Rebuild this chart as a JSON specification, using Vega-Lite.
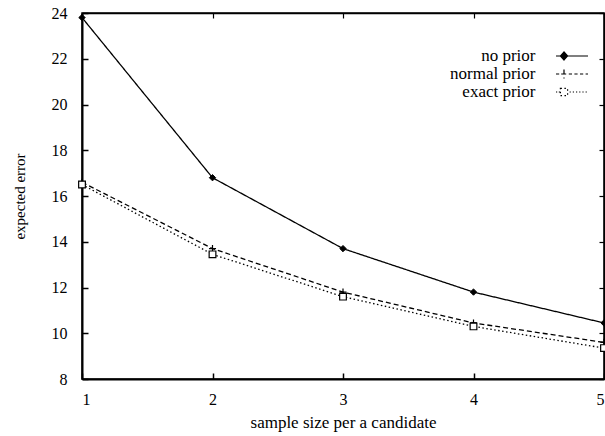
{
  "$schema": "https://vega.github.io/schema/vega-lite/v6.json",
  "width": 522,
  "height": 366,
  "autosize": "none",
  "padding": {"left": 82, "top": 13, "right": 1, "bottom": 57},
  "background": "white",
  "config": {
    "font": "Liberation Serif",
    "view": {"stroke": "black", "strokeWidth": 1.5},
    "axis": {
      "grid": false,
      "labelFont": "Liberation Serif",
      "titleFont": "Liberation Serif",
      "labelColor": "black",
      "titleColor": "black",
      "domainColor": "black",
      "tickColor": "black",
      "titleFontWeight": "normal"
    }
  },
  "data": {
    "values": [
      {"series": "no prior", "size": 1, "error": 23.8},
      {"series": "no prior", "size": 2, "error": 16.8},
      {"series": "no prior", "size": 3, "error": 13.7},
      {"series": "no prior", "size": 4, "error": 11.8},
      {"series": "no prior", "size": 5, "error": 10.45},
      {"series": "normal prior", "size": 1, "error": 16.6},
      {"series": "normal prior", "size": 2, "error": 13.7},
      {"series": "normal prior", "size": 3, "error": 11.8},
      {"series": "normal prior", "size": 4, "error": 10.45},
      {"series": "normal prior", "size": 5, "error": 9.6},
      {"series": "exact prior", "size": 1, "error": 16.5},
      {"series": "exact prior", "size": 2, "error": 13.45},
      {"series": "exact prior", "size": 3, "error": 11.6},
      {"series": "exact prior", "size": 4, "error": 10.3},
      {"series": "exact prior", "size": 5, "error": 9.35}
    ]
  },
  "layer": [
    {
      "mark": {"type": "line", "color": "black", "strokeWidth": 1.3},
      "encoding": {
        "x": {
          "field": "size", "type": "quantitative",
          "scale": {"domain": [1, 5], "nice": false, "zero": false},
          "axis": {
            "title": "sample size per a candidate",
            "values": [1, 2, 3, 4, 5], "format": "d",
            "tickSize": -6, "tickWidth": 1.5, "domainWidth": 2,
            "labelPadding": 18, "labelFontSize": 16,
            "titleFontSize": 17, "titlePadding": 7
          }
        },
        "y": {
          "field": "error", "type": "quantitative",
          "scale": {"domain": [8, 24], "nice": false, "zero": false},
          "axis": {
            "title": "expected error",
            "values": [8, 10, 12, 14, 16, 18, 20, 22, 24], "format": "d",
            "tickSize": -6, "tickWidth": 1.5, "domainWidth": 2,
            "labelPadding": 21, "labelFontSize": 16,
            "titleFontSize": 15, "titlePadding": 24
          }
        },
        "strokeDash": {
          "field": "series", "type": "nominal",
          "scale": {
            "domain": ["no prior", "normal prior", "exact prior"],
            "range": [[1, 0], [5, 3], [1.5, 2.5]]
          },
          "legend": {
            "orient": "none",
            "legendX": 456,
            "legendY": 34,
            "title": null,
            "padding": 0,
            "labelFont": "Liberation Serif",
            "labelFontSize": 17,
            "labelColor": "black",
            "labelAlign": "right",
            "labelOffset": -45.5,
            "symbolOffset": 25,
            "symbolSize": 256,
            "symbolStrokeWidth": 1.2,
            "symbolStrokeColor": "black",
            "rowPadding": 1,
            "encode": {
              "symbols": {
                "update": {
                  "shape": {"signal": "datum.value === 'no prior' ? 'M-2,0H2M-1,-0.5L-0.55,0L-1,0.5L-1.45,0Z' : datum.value === 'normal prior' ? 'M-2,0H-1.6M-1.35,0H-0.65M-0.4,0H0M0.3,0H0.7M1,0H1.4M1.7,0H2M-1,-0.55V0.55' : 'M-2,0H-1.85M-1.65,0H-1.5M-1.45,-0.45H-0.55V0.45H-1.45ZM-0.3,0H-0.15M0.1,0H0.25M0.5,0H0.65M0.9,0H1.05M1.3,0H1.45M1.7,0H1.85'"},
                  "strokeDash": {"value": [1, 0]},
                  "stroke": {"value": "black"},
                  "fill": {"signal": "datum.value === 'no prior' ? 'black' : 'white'"}
                }
              }
            }
          }
        }
      }
    },
    {
      "transform": [{"filter": "datum.series === 'no prior'"}],
      "mark": {"type": "point", "shape": "diamond", "filled": true, "fill": "black", "stroke": "black", "strokeWidth": 1, "size": 40, "opacity": 1},
      "encoding": {
        "x": {"field": "size", "type": "quantitative", "axis": null},
        "y": {"field": "error", "type": "quantitative", "axis": null}
      }
    },
    {
      "transform": [{"filter": "datum.series === 'normal prior'"}],
      "mark": {"type": "point", "shape": "M-1,0H1M0,-1V1", "filled": false, "stroke": "black", "strokeWidth": 1.2, "size": 50, "opacity": 1},
      "encoding": {
        "x": {"field": "size", "type": "quantitative", "axis": null},
        "y": {"field": "error", "type": "quantitative", "axis": null}
      }
    },
    {
      "transform": [{"filter": "datum.series === 'exact prior'"}],
      "mark": {"type": "point", "shape": "square", "filled": true, "fill": "white", "stroke": "black", "strokeWidth": 1.2, "size": 45, "opacity": 1},
      "encoding": {
        "x": {"field": "size", "type": "quantitative", "axis": null},
        "y": {"field": "error", "type": "quantitative", "axis": null}
      }
    },
    {
      "mark": {"type": "point", "opacity": 0},
      "encoding": {
        "x": {
          "field": "size", "type": "quantitative",
          "axis": {"orient": "top", "title": null, "labels": false, "values": [1, 2, 3, 4, 5], "tickSize": -5, "tickWidth": 1.2, "domainWidth": 1.5}
        },
        "y": {
          "field": "error", "type": "quantitative",
          "axis": {"orient": "right", "title": null, "labels": false, "values": [8, 10, 12, 14, 16, 18, 20, 22, 24], "tickSize": -5, "tickWidth": 1.2, "domainWidth": 1.5}
        }
      }
    }
  ],
  "resolve": {"axis": {"x": "independent", "y": "independent"}}
}
